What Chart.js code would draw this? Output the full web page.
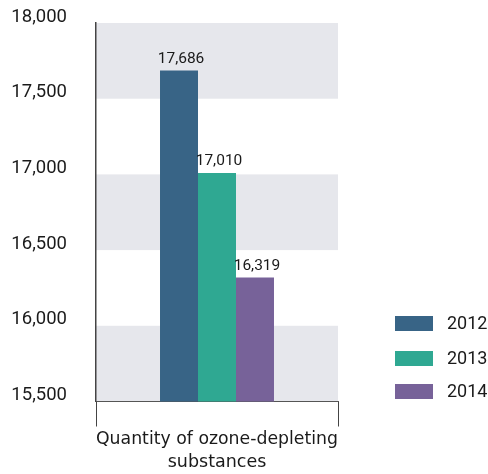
<!DOCTYPE html>
<html>
<head>
<meta charset="utf-8">
<script src="https://cdn.jsdelivr.net/npm/chart.js@4.4.1/dist/chart.umd.min.js"></script>
<style>
  * { box-sizing: border-box; }
  body { margin: 0; background: #ffffff; }
  .wrap { position: relative; width: 488px; height: 474px; }
  .legend { position: absolute; left: 395px; top: 316px; font-family: Roboto, sans-serif; font-size: 18px; color: #1a1a1a; }
  .legend .item { position: absolute; left: 0; width: 93px; height: 15px; }
  .legend .box { position: absolute; left: 0; top: 0; width: 38px; height: 15px; }
  .legend .txt { position: absolute; left: 52px; top: -4px; line-height: 22px; white-space: nowrap; }
</style>
</head>
<body>
<div class="wrap">
  <canvas id="chart" width="488" height="474"></canvas>
  <div class="legend" id="legend"></div>
</div>
<script>
const categories = ["Quantity of ozone-depleting substances"];
const titleLines = ["Quantity of ozone-depleting", "substances"];
const years = ["2012", "2013", "2014"];
const values2012 = [17686];
const values2013 = [17010];
const values2014 = [16319];
const colors = ["#386486", "#2fa892", "#776299"];
const yTicksMin = 15500;
const yTicksMax = 18000;
const yTicksStep = 500;

const fmt = v => Number(v).toLocaleString("en-US");

// alternating grey bands between y ticks, painted before the axes
const bandsPlugin = {
  id: "bands",
  beforeDraw(chart) {
    const { ctx, chartArea, scales } = chart;
    const y = scales.y;
    ctx.save();
    ctx.fillStyle = "#e6e7ec";
    for (let i = 0; i < y.ticks.length - 1; i += 2) {
      const a = y.getPixelForValue(y.ticks[i].value);
      const b = y.getPixelForValue(y.ticks[i + 1].value);
      ctx.fillRect(chartArea.left, b, chartArea.right - chartArea.left, a - b);
    }
    ctx.restore();
  }
};

const valueLabels = {
  id: "valueLabels",
  afterDatasetsDraw(chart) {
    const { ctx } = chart;
    ctx.save();
    ctx.font = "15.5px Roboto, sans-serif";
    ctx.fillStyle = "#1a1a1a";
    ctx.textAlign = "center";
    ctx.textBaseline = "alphabetic";
    chart.data.datasets.forEach((ds, i) => {
      chart.getDatasetMeta(i).data.forEach((bar, j) => {
        ctx.fillText(fmt(ds.data[j]), bar.x + 2, bar.y - 8);
      });
    });
    ctx.restore();
  }
};

new Chart(document.getElementById("chart"), {
  type: "bar",
  data: {
    labels: categories,
    datasets: [
      { label: years[0], data: values2012, backgroundColor: colors[0] },
      { label: years[1], data: values2013, backgroundColor: colors[1] },
      { label: years[2], data: values2014, backgroundColor: colors[2] }
    ]
  },
  options: {
    responsive: false,
    animation: false,
    categoryPercentage: 0.471,
    barPercentage: 1,
    layout: { padding: { top: 23, right: 150, bottom: 0, left: 0 } },
    plugins: {
      legend: { display: false },
      tooltip: { enabled: false }
    },
    scales: {
      x: {
        grid: { display: true, drawOnChartArea: false, drawTicks: true, tickLength: 25, color: "#444", offset: true },
        border: { display: true, color: "#555", width: 1 },
        ticks: { display: false },
        title: {
          display: true,
          text: titleLines,
          font: { family: "DejaVu Sans", size: 17.5, lineHeight: 1.3 },
          color: "#1a1a1a",
          padding: { top: 2, bottom: 0 }
        }
      },
      y: {
        min: yTicksMin,
        max: yTicksMax,
        afterFit(scale) {
          scale.width = 96;
          scale.paddingTop = 0;
          scale.paddingBottom = 0;
        },
        grid: { display: false, drawTicks: false },
        border: { display: true, color: "#444", width: 1.5 },
        ticks: {
          stepSize: yTicksStep,
          padding: 29,
          labelOffset: -6,
          color: "#1a1a1a",
          font: { family: "Roboto", size: 18.5 },
          callback: v => fmt(v)
        }
      }
    }
  },
  plugins: [bandsPlugin, valueLabels]
});

const legend = document.getElementById("legend");
const legendTops = [0, 35, 68];
years.forEach((y, i) => {
  const item = document.createElement("div");
  item.className = "item";
  item.style.top = legendTops[i] + "px";
  item.innerHTML = `<div class="box" style="background:${colors[i]}"></div><div class="txt">${y}</div>`;
  legend.appendChild(item);
});
</script>
</body>
</html>
